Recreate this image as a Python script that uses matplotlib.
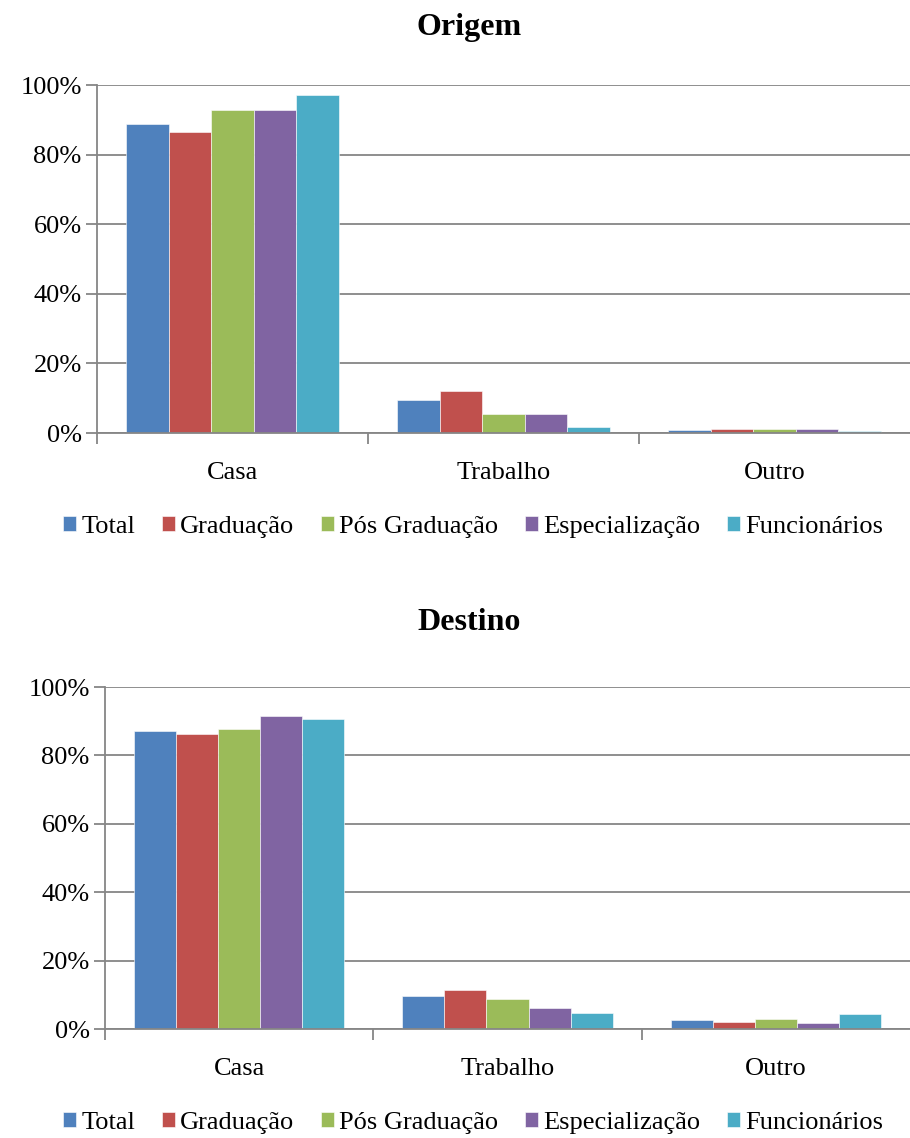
import matplotlib
matplotlib.use("Agg")
import matplotlib.pyplot as plt
import numpy as np
from matplotlib.ticker import FuncFormatter, FixedLocator

plt.rcParams["font.family"] = ["Liberation Serif", "DejaVu Serif"]

categories = ["Casa", "Trabalho", "Outro"]
series = ["Total", "Graduação", "Pós Graduação", "Especialização", "Funcionários"]
colors = ["#4F81BD", "#C0504D", "#9BBB59", "#8064A2", "#4BACC6"]

# percent values per series, ordered Casa / Trabalho / Outro
origem_total = [88.9, 9.6, 1.0]
origem_grad = [86.4, 12.1, 1.1]
origem_pos = [92.9, 5.5, 1.1]
origem_esp = [92.9, 5.5, 1.1]
origem_func = [97.1, 1.8, 0.6]

destino_total = [87.2, 9.7, 2.6]
destino_grad = [86.4, 11.4, 2.0]
destino_pos = [87.8, 8.7, 2.9]
destino_esp = [91.6, 6.0, 1.9]
destino_func = [90.6, 4.6, 4.4]

panels = [
    ("Origem", [origem_total, origem_grad, origem_pos, origem_esp, origem_func]),
    ("Destino", [destino_total, destino_grad, destino_pos, destino_esp, destino_func]),
]

W, H = 910, 1138
fig = plt.figure(figsize=(W / 100, H / 100), dpi=100)

# axes boxes in pixels: left, top, right, bottom
boxes = [(97, 85, 910, 433), (105, 687, 910, 1029)]
title_y = [28, 623]
legend_y = [527, 1123]

GRID = "#868686"
bar_w = 0.157
x = np.arange(len(categories))

for (title, data), (l, t, r, b), ty, ly in zip(panels, boxes, title_y, legend_y):
    ax = fig.add_axes([l / W, 1 - b / H, (r - l) / W, (b - t) / H])
    handles = []
    for k, (vals, c) in enumerate(zip(data, colors)):
        off = (k - 2) * bar_w
        h = ax.bar(x + off, vals, width=bar_w, color=c, edgecolor="white",
                   linewidth=0.4, zorder=3, label=series[k])
        handles.append(h)

    ax.set_xlim(-0.5, 2.5)
    ax.set_ylim(0, 100)
    ax.set_yticks(np.arange(0, 101, 20))
    ax.yaxis.set_major_formatter(FuncFormatter(lambda v, p: f"{v:.0f}%"))
    ax.grid(axis="y", color=GRID, linewidth=1.3, zorder=0)

    ax.set_xticks(x)
    ax.set_xticklabels(categories)
    ax.xaxis.set_minor_locator(FixedLocator([-0.5, 0.5, 1.5]))
    ax.tick_params(axis="x", which="major", length=0, pad=21, labelsize=19)
    ax.tick_params(axis="x", which="minor", length=8, width=1.3, color=GRID, direction="out")
    ax.tick_params(axis="y", length=8, width=1.3, color=GRID, labelsize=19, pad=3)

    for s in ("top", "right"):
        ax.spines[s].set_visible(False)
    for s in ("left", "bottom"):
        ax.spines[s].set_color(GRID)
        ax.spines[s].set_linewidth(1.3)
    ax.spines["bottom"].set_zorder(4)

    fig.text(469 / W, 1 - ty / H, title, ha="center", va="center",
             fontsize=23, fontweight="bold")

    fig.legend(handles=handles, labels=series, loc="center",
               bbox_to_anchor=(473 / W, 1 - ly / H), ncol=5, frameon=False,
               fontsize=19, handlelength=0.5, handleheight=0.5,
               handletextpad=0.2, columnspacing=1.0, borderaxespad=0)

fig.savefig("out.png", dpi=100)
